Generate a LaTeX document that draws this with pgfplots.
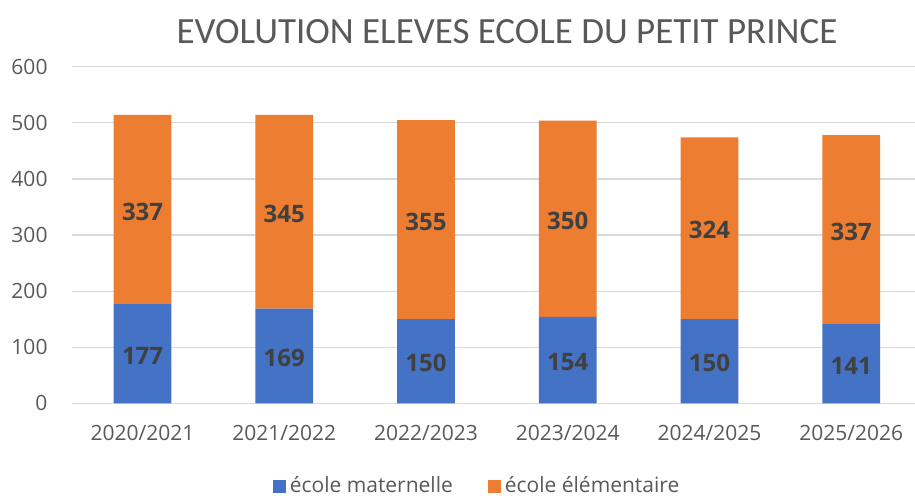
\documentclass[border=0pt]{standalone}
\usepackage{fontspec}
\setmainfont{Open Sans}
\newfontfamily\titlefont{Carlito}
\usepackage{pgfplots}
\pgfplotsset{compat=1.18}
\usepackage{pgfplotstable}
\definecolor{mblue}{HTML}{4472C4}
\definecolor{morange}{HTML}{ED7D31}
\definecolor{gridgray}{HTML}{D9D9D9}
\definecolor{tickgray}{HTML}{595959}
\definecolor{labelgray}{HTML}{404040}
\definecolor{titlegray}{HTML}{595959}
\pgfplotstableread{
x mat elem
0 177 337
1 169 345
2 150 355
3 154 350
4 150 324
5 141 337
}\data
\begin{document}
\begin{tikzpicture}
\useasboundingbox (-35.85pt,-45.85pt) rectangle (421.65pt,201.65pt);
\begin{axis}[
  at={(0pt,0pt)}, anchor=south west,
  scale only axis, width=421.65pt, height=168.3pt,
  ybar stacked, bar width=28.85pt,
  xmin=-0.5, xmax=5.45, ymin=0, ymax=600,
  ytick={0,100,...,600},
  xtick={0,...,5},
  xticklabels={2020/2021,2021/2022,2022/2023,2023/2024,2024/2025,2025/2026},
  axis line style={draw=none}, major tick length=0pt,
  ymajorgrids, grid style={draw=gridgray, line width=0.6pt},
  tick label style={font=\fontsize{10.5}{12}\selectfont, text=tickgray},
  xticklabel style={anchor=base, yshift=-18.6pt},
  yticklabel style={anchor=east, inner sep=0pt, xshift=-11.9pt},
  /pgf/number format/assume math mode=true,
  clip=false,
  legend style={draw=none, fill=none, at={(0.4819,-0.247)}, anchor=center,
    font=\fontsize{10.5}{12}\selectfont, text=tickgray, inner sep=1pt,
    /tikz/every even column/.append style={column sep=15.5pt}},
  legend columns=2,
  legend image code/.code={\fill[#1] (0pt,-3.25pt) rectangle (6.5pt,3.25pt);},
  nodes near coords,
  every node near coord/.append style={anchor=center, yshift=-1pt,
    font=\bfseries\fontsize{12}{14}\selectfont, text=labelgray},
]
\addplot[fill=mblue, draw=none] table[x=x, y=mat]{\data};
\addplot[fill=morange, draw=none] table[x=x, y=elem]{\data};
\legend{école maternelle, école élémentaire}
\end{axis}
\node[font=\titlefont\fontsize{18.5}{20}\selectfont, text=titlegray, anchor=base]
  at (217.65pt,180.15pt) {EVOLUTION ELEVES ECOLE DU PETIT PRINCE};
\end{tikzpicture}
\end{document}
